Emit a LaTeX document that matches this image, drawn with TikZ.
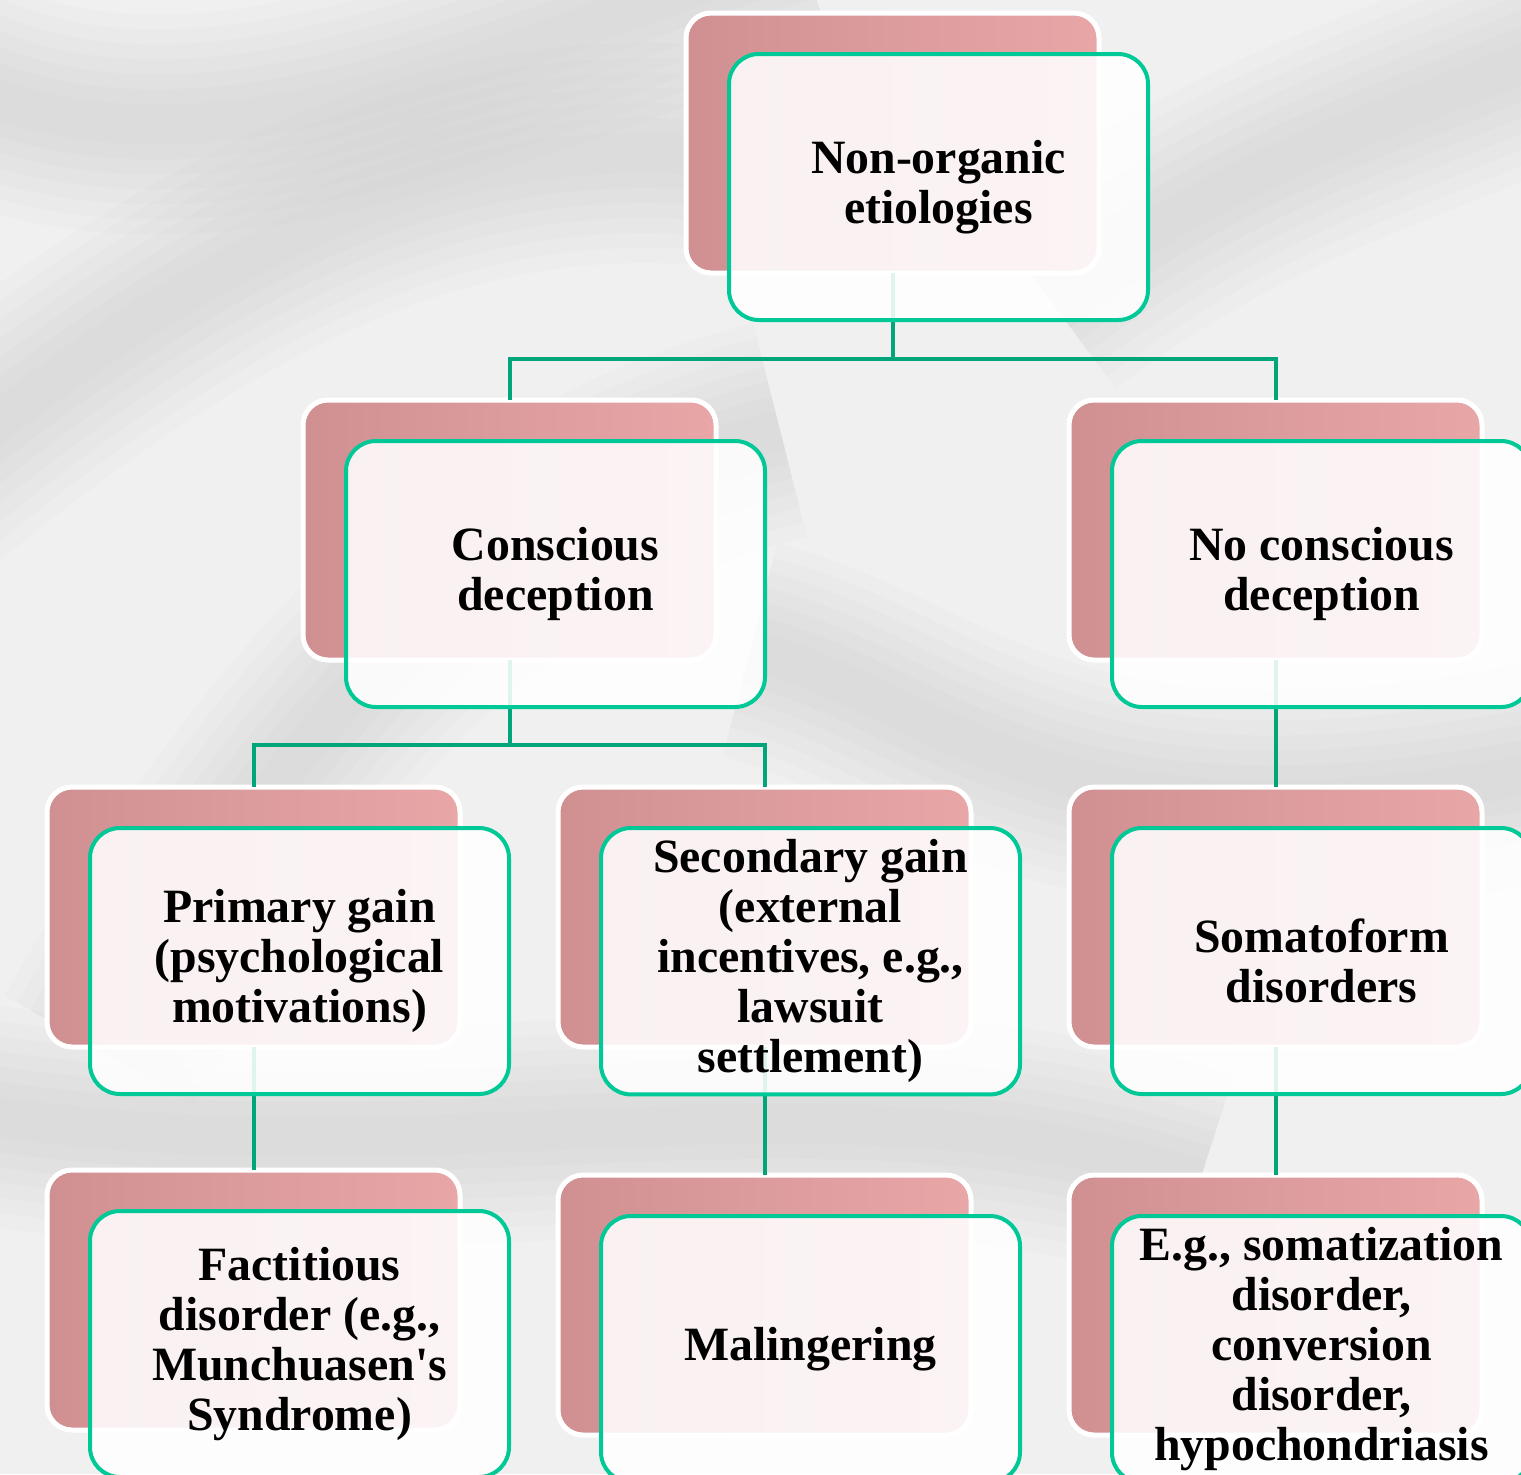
\documentclass[tikz,border=0pt]{standalone}
\usepackage{fontspec}
\setmainfont{Liberation Serif}
\usepackage{tikz}
\usetikzlibrary{shapes,arrows}
\definecolor{bgGray}{HTML}{F0F0F0}
\definecolor{veinGray}{HTML}{A8A8A8}
\definecolor{pinkMain}{HTML}{E8A6A7}
\definecolor{pinkDark}{HTML}{D09092}
\definecolor{tealEdge}{HTML}{00C896}
\definecolor{tealLink}{HTML}{00A67A}
\tikzstyle{back} = [rectangle, rounded corners=0.25cm, minimum width=4.13cm, minimum height=2.6cm, anchor=north west, outer sep=0pt, draw=white, line width=0.05cm, left color=pinkDark, right color=pinkMain]
\tikzstyle{front} = [rectangle, rounded corners=0.3cm, minimum width=4.19cm, minimum height=2.66cm, anchor=north west, outer sep=0pt, draw=tealEdge, line width=0.04cm, fill=white, fill opacity=0.88, text opacity=1, align=center, font=\fontsize{13.6}{14.2}\selectfont\bfseries, xshift=0.43cm, yshift=-0.41cm]
\tikzstyle{link} = [draw=tealLink, line width=0.04cm]
\tikzstyle{vein} = [veinGray, opacity=0.035]

\begin{document}
\begin{tikzpicture}
        % marble background
        \clip (0,0) rectangle (15.21,-14.74);
        \fill [bgGray] (0,0) rectangle (15.21,-14.74);
        \foreach \w in {2.2,1.9,...,0.2} {
            \draw [vein, line width=\w cm] (-1,-5) .. controls (2,-2.5) and (4.5,-1.2) .. (7.5,-1.6);
            \draw [vein, line width=\w cm] (-0.5,-0.8) .. controls (2,-2) and (5,-0.5) .. (8,0.5);
            \draw [vein, line width=\w cm] (1,-10.5) .. controls (3,-7) and (5,-5) .. (7.8,-4.3);
            \draw [vein, line width=\w cm] (7.5,-6.5) .. controls (9.5,-7) and (10.5,-8.8) .. (16,-7.6);
            \draw [vein, line width=\w cm] (-1,-11.0) .. controls (4,-12.0) and (8,-10.5) .. (12,-11.8);
            \draw [vein, line width=\w cm] (10.5,-3) .. controls (12.5,-1.5) and (14,-1.2) .. (16,-0.3);
        }
        % back plates
        \node (proot) [back] at (6.86,-0.13) {};
        \node (pcon) [back] at (3.03,-4.00) {};
        \node (pnocon) [back] at (10.69,-4.00) {};
        \node (pprim) [back] at (0.47,-7.87) {};
        \node (psec) [back] at (5.58,-7.87) {};
        \node (psoma) [back] at (10.69,-7.87) {};
        \node (pfact) [back] at (0.47,-11.70) {};
        \node (pmal) [back] at (5.58,-11.75) {};
        \node (peg) [back] at (10.69,-11.75) {};
        % links
        \draw [link] (proot.south) -- ++(0,-0.86) -| (pcon.north);
        \draw [link] (proot.south) -- ++(0,-0.86) -| (pnocon.north);
        \draw [link] (pcon.south) -- ++(0,-0.85) -| (pprim.north);
        \draw [link] (pcon.south) -- ++(0,-0.85) -| (psec.north);
        \draw [link] (pnocon.south) -- (psoma.north);
        \draw [link] (pprim.south) -- (pfact.north);
        \draw [link] (psec.south) -- (pmal.north);
        \draw [link] (psoma.south) -- (peg.north);
        % front boxes
        \node (root) [front] at (proot.north west) {Non-organic\\etiologies};
        \node (con) [front] at (pcon.north west) {Conscious\\deception};
        \node (nocon) [front] at (pnocon.north west) {No conscious\\deception};
        \node (prim) [front] at (pprim.north west) {Primary gain\\(psychological\\motivations)};
        \node (sec) [front] at (psec.north west) {Secondary gain\\(external\\incentives, e.g.,\\lawsuit\\settlement)};
        \node (soma) [front] at (psoma.north west) {Somatoform\\disorders};
        \node (fact) [front] at (pfact.north west) {Factitious\\disorder (e.g.,\\Munchuasen\textquotesingle s\\Syndrome)};
        \node (mal) [front] at (pmal.north west) {Malingering};
        \node (eg) [front] at (peg.north west) {E.g., somatization\\disorder,\\conversion\\disorder,\\hypochondriasis};
\end{tikzpicture}
\end{document}
